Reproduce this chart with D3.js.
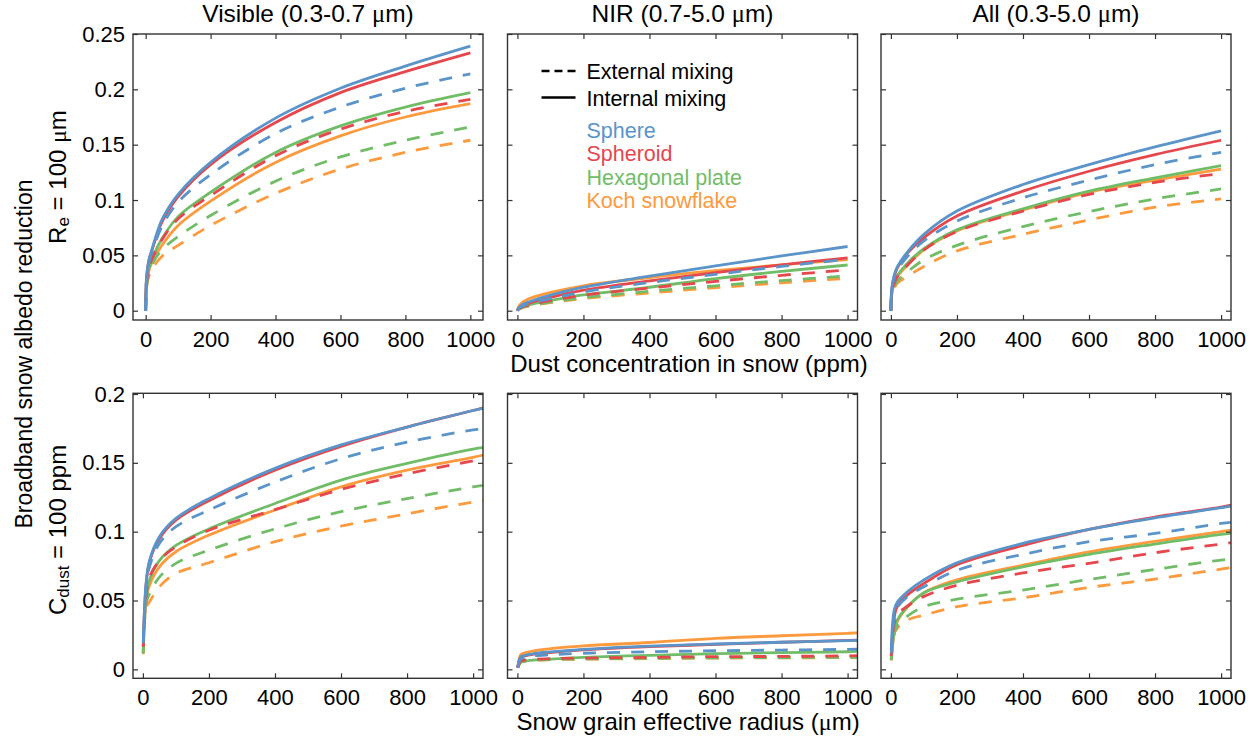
<!DOCTYPE html>
<html lang="en">
<head>
<meta charset="UTF-8">
<title>Broadband snow albedo reduction by dust</title>
<script src="https://d3js.org/d3.v7.min.js"></script>
<style>
  body { margin: 0; background: #fff; }
  svg text { font-family: "Liberation Sans", Arial, Helvetica, sans-serif; fill: #000; }
</style>
</head>
<body>
<svg id="chart" width="1260" height="740"></svg>
<script>
// x values of the two rows
const dustPpm = [0, 2, 5, 10, 20, 50, 100, 200, 400, 600, 800, 1000];
const grainRadius = [1, 10, 20, 50, 100, 200, 400, 600, 800, 1000, 1030];

// shape order: Sphere, Spheroid, Hexagonal plate, Koch snowflake
const shapeNames = ['Sphere', 'Spheroid', 'Hexagonal plate', 'Koch snowflake'];
const shapeColors = ['#5b94c9', '#e5474d', '#71bd67', '#fc9a3d'];

const bandTitles = ['Visible (0.3-0.7 μm)', 'NIR (0.7-5.0 μm)', 'All (0.3-5.0 μm)'];
const xTicks = [0, 200, 400, 600, 800, 1000];
const yTicksTop = [0, 0.05, 0.1, 0.15, 0.2, 0.25];
const yTicksBottom = [0, 0.05, 0.1, 0.15, 0.2];

// Row 1: Re = 100 um, x = dust concentration
const visDustInt = [
  [0, 0.027, 0.037, 0.046, 0.056, 0.082, 0.105, 0.134, 0.174, 0.201, 0.221, 0.239],
  [0, 0.026, 0.036, 0.045, 0.055, 0.080, 0.103, 0.132, 0.170, 0.197, 0.216, 0.233],
  [0, 0.022, 0.030, 0.038, 0.047, 0.065, 0.085, 0.107, 0.143, 0.167, 0.184, 0.197],
  [0, 0.020, 0.028, 0.036, 0.044, 0.059, 0.077, 0.099, 0.134, 0.158, 0.175, 0.187]
];
const visDustExt = [
  [0, 0.025, 0.034, 0.043, 0.053, 0.076, 0.098, 0.123, 0.160, 0.184, 0.201, 0.214],
  [0, 0.022, 0.030, 0.038, 0.047, 0.064, 0.083, 0.104, 0.140, 0.164, 0.180, 0.191],
  [0, 0.019, 0.027, 0.034, 0.042, 0.055, 0.067, 0.086, 0.117, 0.139, 0.154, 0.166],
  [0, 0.018, 0.025, 0.031, 0.038, 0.049, 0.059, 0.077, 0.106, 0.128, 0.143, 0.154]
];
const nirDustInt = [
  [0, 0.0015, 0.0028, 0.0042, 0.0062, 0.0095, 0.0140, 0.0212, 0.0312, 0.0405, 0.0495, 0.0580],
  [0, 0.0013, 0.0024, 0.0036, 0.0053, 0.0082, 0.0120, 0.0185, 0.0270, 0.0345, 0.0415, 0.0478],
  [0, 0.0010, 0.0018, 0.0027, 0.0040, 0.0064, 0.0092, 0.0142, 0.0212, 0.0290, 0.0355, 0.0413],
  [0, 0.0025, 0.0042, 0.0060, 0.0085, 0.0125, 0.0165, 0.0225, 0.0300, 0.0362, 0.0415, 0.0462]
];
const nirDustExt = [
  [0, 0.0012, 0.0022, 0.0033, 0.0048, 0.0076, 0.0110, 0.0170, 0.0255, 0.0328, 0.0400, 0.0465],
  [0, 0.0010, 0.0018, 0.0027, 0.0040, 0.0063, 0.0092, 0.0140, 0.0205, 0.0265, 0.0320, 0.0368],
  [0, 0.0008, 0.0015, 0.0023, 0.0034, 0.0054, 0.0078, 0.0118, 0.0175, 0.0225, 0.0272, 0.0314],
  [0, 0.0008, 0.0014, 0.0021, 0.0031, 0.0050, 0.0072, 0.0110, 0.0160, 0.0208, 0.0252, 0.0293]
];
const allDustInt = [
  [0, 0.018, 0.025, 0.032, 0.040, 0.053, 0.069, 0.090, 0.114, 0.132, 0.148, 0.1625],
  [0, 0.017, 0.024, 0.031, 0.039, 0.052, 0.066, 0.0855, 0.108, 0.126, 0.141, 0.154],
  [0, 0.014, 0.020, 0.026, 0.032, 0.043, 0.056, 0.073, 0.092, 0.108, 0.120, 0.131],
  [0, 0.013, 0.019, 0.025, 0.031, 0.041, 0.055, 0.072, 0.091, 0.107, 0.118, 0.128]
];
const allDustExt = [
  [0, 0.016, 0.023, 0.030, 0.037, 0.049, 0.063, 0.081, 0.102, 0.118, 0.132, 0.143],
  [0, 0.013, 0.019, 0.025, 0.031, 0.041, 0.055, 0.0715, 0.090, 0.105, 0.116, 0.124],
  [0, 0.012, 0.017, 0.022, 0.027, 0.035, 0.046, 0.059, 0.076, 0.0896, 0.101, 0.110],
  [0, 0.011, 0.016, 0.020, 0.025, 0.031, 0.040, 0.054, 0.069, 0.082, 0.0935, 0.101]
];

// Row 2: Cdust = 100 ppm, x = snow grain effective radius
const visRadInt = [
  [0.020, 0.0636, 0.079, 0.0963, 0.1096, 0.124, 0.146, 0.163, 0.176, 0.188, 0.1895],
  [0.0165, 0.0624, 0.078, 0.095, 0.1084, 0.1225, 0.1447, 0.162, 0.176, 0.188, 0.190],
  [0.0128, 0.053, 0.065, 0.079, 0.090, 0.102, 0.1205, 0.1375, 0.1496, 0.160, 0.161],
  [0.012, 0.050, 0.061, 0.0745, 0.0854, 0.0975, 0.1157, 0.1326, 0.1447, 0.154, 0.1556]
];
const visRadExt = [
  [0.019, 0.060, 0.0745, 0.0915, 0.1036, 0.1157, 0.136, 0.153, 0.165, 0.174, 0.175],
  [0.0165, 0.055, 0.067, 0.079, 0.089, 0.101, 0.116, 0.1307, 0.142, 0.1515, 0.153],
  [0.0116, 0.048, 0.055, 0.067, 0.077, 0.0866, 0.102, 0.1145, 0.124, 0.1326, 0.1336],
  [0.011, 0.045, 0.049, 0.060, 0.0697, 0.0774, 0.0927, 0.104, 0.113, 0.1215, 0.1225]
];
const nirRadInt = [
  [0.0015, 0.0090, 0.0100, 0.0115, 0.0127, 0.0145, 0.0169, 0.0184, 0.0197, 0.0208, 0.0210],
  [0.0015, 0.0085, 0.0095, 0.0110, 0.0122, 0.0141, 0.0165, 0.0181, 0.0197, 0.0210, 0.0212],
  [0.0012, 0.0050, 0.0058, 0.0067, 0.0075, 0.0087, 0.0102, 0.0114, 0.0121, 0.0128, 0.0130],
  [0.0015, 0.0105, 0.0118, 0.0135, 0.0150, 0.0170, 0.0195, 0.0225, 0.0244, 0.0262, 0.0265]
];
const nirRadExt = [
  [0.0013, 0.0075, 0.0085, 0.0098, 0.0106, 0.0117, 0.0128, 0.0135, 0.0140, 0.0145, 0.0146],
  [0.0012, 0.0060, 0.0066, 0.0073, 0.0078, 0.0082, 0.0087, 0.0092, 0.0094, 0.0098, 0.0099],
  [0.0012, 0.0055, 0.0061, 0.0068, 0.0072, 0.0076, 0.0080, 0.0084, 0.0086, 0.0087, 0.0088],
  [0.0012, 0.0053, 0.0059, 0.0066, 0.0070, 0.0074, 0.0078, 0.0082, 0.0084, 0.0085, 0.0086]
];
const allRadInt = [
  [0.014, 0.043, 0.049, 0.0564, 0.065, 0.0774, 0.0915, 0.1016, 0.110, 0.1174, 0.1186],
  [0.0104, 0.038, 0.046, 0.054, 0.0624, 0.076, 0.090, 0.1016, 0.1106, 0.1178, 0.1193],
  [0.0073, 0.0273, 0.036, 0.0455, 0.0557, 0.0636, 0.0745, 0.0835, 0.091, 0.098, 0.0987],
  [0.0068, 0.026, 0.035, 0.045, 0.0557, 0.065, 0.0757, 0.0854, 0.093, 0.100, 0.1012]
];
const allRadExt = [
  [0.0116, 0.037, 0.045, 0.0528, 0.060, 0.072, 0.0835, 0.0927, 0.0987, 0.106, 0.1067],
  [0.0097, 0.0334, 0.040, 0.046, 0.053, 0.061, 0.070, 0.077, 0.0847, 0.091, 0.092],
  [0.0068, 0.026, 0.032, 0.0387, 0.0455, 0.051, 0.0576, 0.0653, 0.0726, 0.0794, 0.080],
  [0.0063, 0.026, 0.030, 0.0358, 0.0394, 0.0455, 0.052, 0.0595, 0.0656, 0.0728, 0.0738]
];

// layout
const colLeft = [133, 507.5, 881];
const rowTop = [34, 393.3];
const panelW = 350;
const rowH = [286, 285];
const axisColor = '#333';
const tickFont = 22;

const svg = d3.select('#chart');

// write a string, putting the greek mu in a serif face like the original
function muText(sel, str) {
  str.split('μ').forEach((part, i) => {
    if (i > 0) sel.append('tspan').attr('font-family', '"Liberation Serif", serif').text('μ');
    if (part) sel.append('tspan').text(part);
  });
}

const panels = [
  { row: 0, col: 0, xs: dustPpm, int: visDustInt, ext: visDustExt, xDom: [-39, 1039] },
  { row: 0, col: 1, xs: dustPpm, int: nirDustInt, ext: nirDustExt, xDom: [-30, 1030] },
  { row: 0, col: 2, xs: dustPpm, int: allDustInt, ext: allDustExt, xDom: [-30, 1030] },
  { row: 1, col: 0, xs: grainRadius, int: visRadInt, ext: visRadExt, xDom: [-30, 1030] },
  { row: 1, col: 1, xs: grainRadius, int: nirRadInt, ext: nirRadExt, xDom: [-30, 1030] },
  { row: 1, col: 2, xs: grainRadius, int: allRadInt, ext: allRadExt, xDom: [-30, 1030] }
];

panels.forEach((p, i) => {
  const h = rowH[p.row];
  const g = svg.append('g').attr('transform', `translate(${colLeft[p.col]},${rowTop[p.row]})`);

  const x = d3.scaleLinear().domain(p.xDom).range([0, panelW]);
  const y = d3.scaleLinear()
    .domain(p.row === 0 ? [-0.0084, 0.25] : [-0.0065, 0.2005])
    .range([h, 0]);

  g.append('clipPath').attr('id', 'clip' + i)
    .append('rect').attr('width', panelW).attr('height', h);

  const line = d3.line()
    .x(d => x(d[0]))
    .y(d => y(d[1]))
    .curve(d3.curveCatmullRom.alpha(0.5));

  const lines = g.append('g').attr('clip-path', `url(#clip${i})`);
  // koch first, sphere last (sphere ends up on top)
  [3, 2, 1, 0].forEach(s => {
    lines.append('path')
      .datum(p.xs.map((xv, k) => [xv, p.ext[s][k]]))
      .attr('d', line)
      .attr('fill', 'none')
      .attr('stroke', shapeColors[s])
      .attr('stroke-width', 2.8)
      .attr('stroke-dasharray', '13,11');
    lines.append('path')
      .datum(p.xs.map((xv, k) => [xv, p.int[s][k]]))
      .attr('d', line)
      .attr('fill', 'none')
      .attr('stroke', shapeColors[s])
      .attr('stroke-width', 2.8);
  });

  const yTicks = p.row === 0 ? yTicksTop : yTicksBottom;
  const tidy = sel => {
    sel.select('.domain').remove();
    sel.selectAll('.tick line').attr('stroke', axisColor).attr('stroke-width', 1.2);
    sel.selectAll('.tick text').attr('fill', '#000');
    sel.attr('font-size', tickFont).attr('font-family', null);
  };

  g.append('g').attr('transform', `translate(0,${h})`)
    .call(d3.axisBottom(x).tickValues(xTicks).tickSize(-5).tickPadding(11).tickFormat(d => String(d)))
    .call(tidy);
  g.append('g')
    .call(d3.axisTop(x).tickValues(xTicks).tickSize(-5).tickFormat(''))
    .call(tidy);
  g.append('g')
    .call(d3.axisLeft(y).tickValues(yTicks).tickSize(-5).tickPadding(8)
      .tickFormat(p.col === 0 ? d => String(d) : ''))
    .call(tidy);
  g.append('g').attr('transform', `translate(${panelW},0)`)
    .call(d3.axisRight(y).tickValues(yTicks).tickSize(-5).tickFormat(''))
    .call(tidy);

  g.append('rect')
    .attr('width', panelW).attr('height', h)
    .attr('fill', 'none').attr('stroke', axisColor).attr('stroke-width', 1.4);

  if (p.row === 0) {
    const t = g.append('text')
      .attr('x', panelW / 2).attr('y', -12)
      .attr('text-anchor', 'middle').attr('font-size', 24.5);
    muText(t, bandTitles[p.col]);
  }
});

// x axis titles
const xt1 = svg.append('text').attr('x', 689).attr('y', 372)
  .attr('text-anchor', 'middle').attr('font-size', 24);
muText(xt1, 'Dust concentration in snow (ppm)');
const xt2 = svg.append('text').attr('x', 688).attr('y', 730)
  .attr('text-anchor', 'middle').attr('font-size', 24);
muText(xt2, 'Snow grain effective radius (μm)');

// y axis titles
svg.append('text')
  .attr('transform', 'translate(32,354) rotate(-90)')
  .attr('text-anchor', 'middle').attr('font-size', 23)
  .text('Broadband snow albedo reduction');

const re = svg.append('text')
  .attr('transform', 'translate(66,177) rotate(-90)')
  .attr('text-anchor', 'middle').attr('font-size', 24);
re.append('tspan').text('R');
re.append('tspan').attr('font-size', 17).attr('dy', 3).text('e');
re.append('tspan').attr('dy', -3).text(' = 100 ');
re.append('tspan').attr('font-family', '"Liberation Serif", serif').text('μ');
re.append('tspan').text('m');

const cd = svg.append('text')
  .attr('transform', 'translate(66,530) rotate(-90)')
  .attr('text-anchor', 'middle').attr('font-size', 24);
cd.append('tspan').text('C');
cd.append('tspan').attr('font-size', 17).attr('dy', 3).text('dust');
cd.append('tspan').attr('dy', -3).text(' = 100 ppm');

// legend inside the NIR panel of the first row
const legend = svg.append('g').attr('transform', 'translate(541.5,0)');
legend.append('line').attr('x1', 0).attr('x2', 34).attr('y1', 71).attr('y2', 71)
  .attr('stroke', '#000').attr('stroke-width', 2.6).attr('stroke-dasharray', '8,5');
legend.append('line').attr('x1', 0).attr('x2', 34).attr('y1', 97.5).attr('y2', 97.5)
  .attr('stroke', '#000').attr('stroke-width', 2.6);
legend.append('text').attr('x', 45).attr('y', 79).attr('font-size', 21.5).text('External mixing');
legend.append('text').attr('x', 45).attr('y', 106).attr('font-size', 21.5).text('Internal mixing');
shapeNames.forEach((name, s) => {
  legend.append('text')
    .attr('x', 45).attr('y', 137.5 + s * 23.5)
    .attr('font-size', 21.5)
    .style('fill', shapeColors[s])
    .text(name);
});
</script>
</body>
</html>
